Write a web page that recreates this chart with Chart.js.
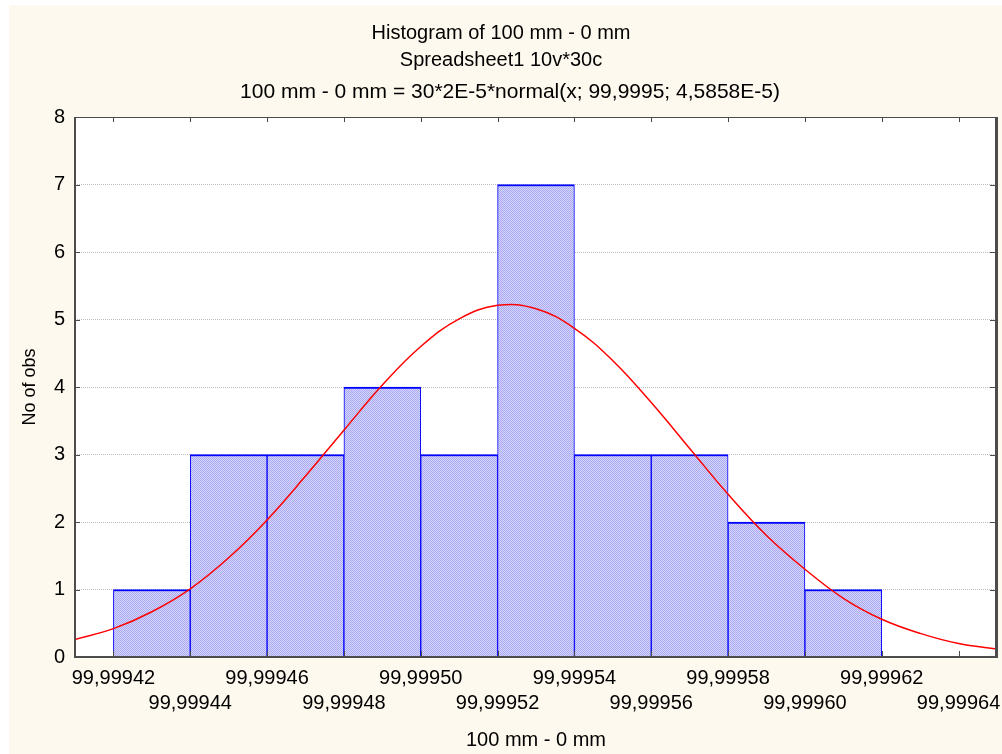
<!DOCTYPE html>
<html><head><meta charset="utf-8">
<script src="https://cdn.jsdelivr.net/npm/chart.js@4.4.1/dist/chart.umd.min.js"></script>
<style>
html,body{margin:0;padding:0;background:#ffffff;}
#wrap{position:absolute;left:9px;top:5px;width:993px;height:749px;}
</style></head><body>
<div id="wrap"><canvas id="c"></canvas></div>
<script>
// ---- data ----
const titleLines = ['Histogram of 100 mm - 0 mm', 'Spreadsheet1 10v*30c', '100 mm - 0 mm = 30*2E-5*normal(x; 99,9995; 4,5858E-5)'];
const xAxisTitle = '100 mm - 0 mm';
const yAxisTitle = 'No of obs';
const binCenters = [99.99943, 99.99945, 99.99947, 99.99949, 99.99951, 99.99953, 99.99955, 99.99957, 99.99959, 99.99961, 99.99963];
const binCounts  = [1, 3, 3, 4, 3, 7, 3, 3, 2, 1, 0];
const xTickValues = [99.99942, 99.99944, 99.99946, 99.99948, 99.99950, 99.99952, 99.99954, 99.99956, 99.99958, 99.99960, 99.99962, 99.99964];
const xTickLabels = ['99,99942', '99,99944', '99,99946', '99,99948', '99,99950', '99,99952', '99,99954', '99,99956', '99,99958', '99,99960', '99,99962', '99,99964'];
const yTickValues = [0, 1, 2, 3, 4, 5, 6, 7, 8];
const xMin = 99.99941, xMax = 99.99965;
const curveX = [99.99941, 99.99942, 99.99943, 99.99944, 99.99945, 99.99946, 99.99947, 99.99948, 99.99949, 99.99950, 99.99951, 99.99952, 99.99953, 99.99954, 99.99955, 99.99956, 99.99957, 99.99958, 99.99959, 99.99960, 99.99961, 99.99962, 99.99963, 99.99964, 99.99965];
const curveY = [0.26, 0.42, 0.67, 1.01, 1.47, 2.03, 2.68, 3.36, 4.03, 4.60, 5.01, 5.21, 5.16, 4.87, 4.39, 3.77, 3.09, 2.41, 1.80, 1.30, 0.87, 0.56, 0.35, 0.20, 0.12];

// ---- style ----
const FONT = "'Liberation Sans', Arial, sans-serif";
Chart.defaults.font.family = FONT;
Chart.defaults.color = '#000';

const pc = document.createElement('canvas');
pc.width = 2; pc.height = 2;
const pctx = pc.getContext('2d');
pctx.fillStyle = '#D6D6FC'; pctx.fillRect(0, 0, 2, 2);
pctx.fillStyle = '#A9A9F2'; pctx.fillRect(0, 0, 1, 1); pctx.fillRect(1, 1, 1, 1);
const ctx0 = document.getElementById('c').getContext('2d');
const hatch = ctx0.createPattern(pc, 'repeat');

const bgPlugin = {
  id: 'bg',
  beforeDraw(chart) {
    const {ctx, chartArea: a} = chart;
    ctx.save();
    ctx.fillStyle = '#FEF9EE';
    ctx.fillRect(0, 0, chart.width, chart.height);
    ctx.fillStyle = '#FFFFFF';
    ctx.fillRect(a.left, a.top, a.right - a.left, a.bottom - a.top);
    ctx.restore();
  }
};
const framePlugin = {
  id: 'frame',
  afterDatasetsDraw(chart) {
    const {ctx, chartArea: a, scales} = chart;
    ctx.save();
    ctx.fillStyle = '#4C4C4C';
    ctx.fillRect(a.left - 1, a.top, 2, a.bottom - a.top + 1);
    ctx.fillRect(a.left, a.bottom - 1, a.right - a.left, 2);
    ctx.fillRect(a.left, a.top, a.right - a.left, 1);
    ctx.fillRect(a.right - 2, a.top, 3, a.bottom - a.top + 1);
    xTickValues.forEach(v => {
      const px = Math.round(scales.x.getPixelForValue(v));
      ctx.fillRect(px, a.bottom - 6, 1, 5);
      ctx.fillRect(px, a.top, 1, 5);
    });
    yTickValues.forEach(v => {
      const py = Math.round(scales.y.getPixelForValue(v));
      ctx.fillRect(a.left, py, 5, 1);
      ctx.fillRect(a.right - 7, py, 5, 1);
    });
    ctx.restore();
  }
};
const titlePlugin = {
  id: 'titles',
  afterDraw(chart) {
    const ctx = chart.ctx;
    ctx.save();
    ctx.fillStyle = '#000';
    ctx.textAlign = 'center';
    ctx.textBaseline = 'middle';
    const xs = [492, 492, 501], ys = [28, 55, 87], sizes = [20, 20, 21];
    titleLines.forEach((t, i) => {
      ctx.font = sizes[i] + 'px ' + FONT;
      ctx.fillText(t, xs[i], ys[i]);
    });
    ctx.restore();
  }
};

new Chart(document.getElementById('c'), {
  type: 'bar',
  data: {
    datasets: [
      {
        type: 'line',
        order: 0,
        data: curveX.map((x, i) => ({x: x, y: curveY[i]})),
        borderColor: '#FF0000',
        borderWidth: 1.5,
        pointRadius: 0,
        tension: 0.4,
        fill: false
      },
      {
        type: 'bar',
        order: 1,
        data: binCenters.map((x, i) => ({x: x, y: binCounts[i]})),
        backgroundColor: hatch,
        borderColor: '#0000FF',
        borderWidth: {top: 2, left: 1, right: 1, bottom: 0},
        borderSkipped: false,
        barPercentage: 1,
        categoryPercentage: 1,
        grouped: false
      }
    ]
  },
  options: {
    responsive: true,
    maintainAspectRatio: false,
    devicePixelRatio: 1,
    animation: false,
    layout: {padding: {top: 112, right: 5, left: 0, bottom: 0}},
    plugins: {legend: {display: false}, tooltip: {enabled: false}, title: {display: false}},
    scales: {
      x: {
        type: 'linear',
        min: xMin, max: xMax,
        offset: false,
        afterBuildTicks: s => { s.ticks = xTickValues.map(v => ({value: v})); },
        afterFit: s => { s.height = 97; s.paddingLeft = 0; s.paddingRight = 0; },
        ticks: {
          autoSkip: false, maxRotation: 0, minRotation: 0, padding: 9,
          color: '#000', font: {size: 20, lineHeight: 1.25},
          callback: (v, i) => (i % 2 === 0 ? [xTickLabels[i]] : ['', xTickLabels[i]])
        },
        grid: {display: false, drawTicks: false, offset: false},
        border: {display: false},
        title: {display: true, text: xAxisTitle, color: '#000', font: {size: 20}, padding: {top: 0, bottom: 2}}
      },
      y: {
        type: 'linear',
        min: 0, max: 8,
        afterBuildTicks: s => { s.ticks = yTickValues.map(v => ({value: v})); },
        afterFit: s => { s.width = 66; s.paddingTop = 0; s.paddingBottom = 0; },
        ticks: {padding: 10, color: '#000', font: {size: 20}, callback: (v, i) => String(yTickValues[i])},
        grid: {color: '#BEBEBE', lineWidth: 1, drawTicks: false},
        border: {display: false, dash: [1, 1]},
        title: {display: true, text: yAxisTitle, color: '#000', font: {size: 18}, padding: {top: 10, bottom: 0}}
      }
    }
  },
  plugins: [bgPlugin, framePlugin, titlePlugin]
});
</script>
</body></html>
